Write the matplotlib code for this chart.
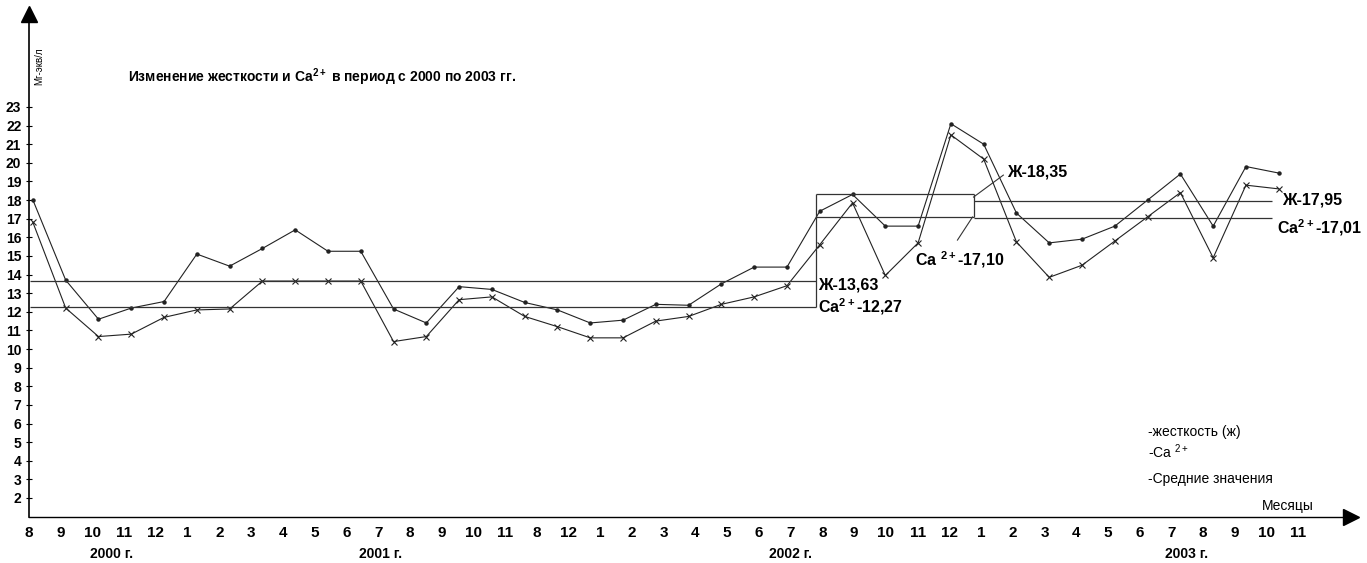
import numpy as np
import matplotlib
matplotlib.use("Agg")
from matplotlib import pyplot as plt

plt.rcParams['font.family'] = ['Liberation Sans', 'DejaVu Sans']
plt.rcParams['mathtext.default'] = 'regular'

# monthly values (mg-eq/l)
hardness = [18.0, 13.7, 11.6, 12.2, 12.55, 15.1, 14.45, 15.4, 16.4, 15.25,
            15.25, 12.15, 11.4, 13.35, 13.2, 12.5, 12.1, 11.4, 11.55, 12.4,
            12.35, 13.5, 14.4, 14.4, 17.4, 18.3, 16.6, 16.6, 22.1, 21.0,
            17.3, 15.7, 15.9, 16.6, 18.0, 19.4, 16.6, 19.8, 19.45]
calcium = [16.8, 12.2, 10.67, 10.8, 11.7, 12.1, 12.15, 13.65, 13.65, 13.65,
           13.65, 10.4, 10.67, 12.65, 12.8, 11.75, 11.2, 10.6, 10.6, 11.5,
           11.75, 12.4, 12.8, 13.4, 15.6, 17.85, 13.95, 15.7, 21.5, 20.2,
           15.75, 13.85, 14.5, 15.8, 17.1, 18.4, 14.9, 18.8, 18.6]

# mean values per period
mean_hard = [13.63, 18.35, 17.95]
mean_ca = [12.27, 17.10, 17.01]
period_edges = [-0.1, 23.9, 28.7, 37.8]

month_labels = ['8', '9', '10', '11', '12',
                '1', '2', '3', '4', '5', '6', '7', '8', '9', '10', '11', '8', '12',
                '1', '2', '3', '4', '5', '6', '7', '8', '9', '10', '11', '12',
                '1', '2', '3', '4', '5', '6', '7', '8', '9', '10', '11']
year_labels = ['2000 г.', '2001 г.', '2002 г.', '2003 г.']
year_pos = [2.4, 10.6, 23.1, 35.2]

fig = plt.figure(figsize=(13.67, 5.63), dpi=100)
ax = fig.add_axes([0.0212, 0.0824, 0.967, 0.893])

x = np.arange(len(hardness))
ax.plot(x, hardness, color='#222222', lw=0.8, marker='o', ms=2.2)
ax.plot(x, calcium, color='#222222', lw=0.8, marker='x', ms=4, mew=0.8)

# mean lines
for i in range(3):
    ax.hlines(mean_hard[i], period_edges[i], period_edges[i + 1], color='#333333', lw=0.9)
    ax.hlines(mean_ca[i], period_edges[i], period_edges[i + 1], color='#333333', lw=0.9)
ax.vlines(period_edges[1], mean_ca[0], mean_hard[1], color='#333333', lw=0.9)
ax.vlines(period_edges[2], mean_ca[1], mean_hard[1], color='#333333', lw=0.9)

# labels of the means
fs = 11.5
ax.text(23.96, 13.44, 'Ж-13,63', fontsize=fs, fontweight='bold', va='center')
ax.text(23.96, 12.26, 'Ca$^{2+}$-12,27', fontsize=fs, fontweight='bold', va='center')
ax.text(29.7, 19.5, 'Ж-18,35', fontsize=fs, fontweight='bold', va='center')
ax.plot([28.69, 29.6], [18.16, 19.34], color='#333333', lw=0.8)
ax.text(26.9, 14.8, 'Ca $^{2+}$-17,10', fontsize=fs, fontweight='bold', va='center')
ax.plot([28.66, 28.2], [17.09, 15.85], color='#333333', lw=0.8)
ax.text(38.1, 18.0, 'Ж-17,95', fontsize=fs, fontweight='bold', va='center')
ax.text(37.95, 16.5, 'Ca$^{2+}$-17,01', fontsize=fs, fontweight='bold', va='center')

ax.text(2.9, 24.6, 'Изменение жесткости и Ca$^{2+}$ в период с 2000 по 2003 гг.',
        fontsize=10, fontweight='bold', va='center')

ax.text(34.0, 5.54, '-жесткость (ж)', fontsize=10, va='center')
ax.text(34.0, 4.47, '-Ca $^{2+}$', fontsize=10, va='center')
ax.text(34.0, 3.02, '-Средние значения', fontsize=10, va='center')
ax.text(37.5, 1.55, 'Месяцы', fontsize=10, va='center')

ax.text(0.2, 25.2, 'Мг-экв/л', fontsize=7, rotation=90, va='center', ha='center')

ax.set_xlim(-0.1, 40.2)
ax.set_ylim(1, 28)

ax.set_xticks(np.linspace(-0.12, 38.6, len(month_labels)))
ax.set_xticklabels(month_labels, fontsize=11, fontweight='bold')
ax.tick_params(axis='x', length=0, pad=7)
ax.set_yticks(range(2, 24))
ax.set_yticklabels([str(v) for v in range(2, 24)], fontsize=10, fontweight='bold')
ax.tick_params(axis='y', direction='inout', length=5, width=0.8, pad=3)

for i in range(len(year_labels)):
    ax.text(year_pos[i], -0.075, year_labels[i], fontsize=10, fontweight='bold',
            ha='center', va='center', transform=ax.get_xaxis_transform())

ax.spines['top'].set_visible(False)
ax.spines['right'].set_visible(False)
ax.spines['left'].set_linewidth(1.2)
ax.spines['bottom'].set_linewidth(1.0)
ax.plot(1, 0, '>k', ms=11, transform=ax.transAxes, clip_on=False)
ax.plot(0, 1, '^k', ms=11, transform=ax.transAxes, clip_on=False)

fig.savefig('out.png', dpi=100)
